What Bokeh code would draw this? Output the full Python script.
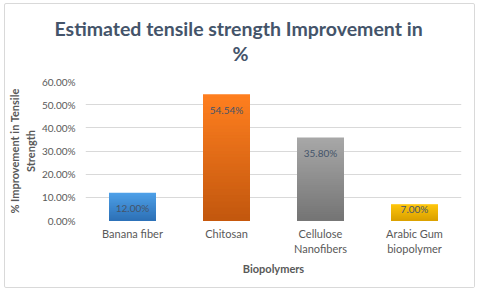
from bokeh.plotting import figure
from bokeh.models import Title, Range1d, FixedTicker, ColumnDataSource, CustomJSTickFormatter
from bokeh.core.properties import value
from bokeh.embed import file_html
from bokeh.resources import INLINE

categories = ["Banana fiber", "Chitosan", "Cellulose\nNanofibers", "Arabic Gum\nbiopolymer"]
improvement = [12.00, 54.54, 35.80, 7.00]
labels = ["12.00%", "54.54%", "35.80%", "7.00%"]
y_ticks = [0, 10, 20, 30, 40, 50, 60]
title_lines = ["Estimated tensile strength Improvement in", "%"]
top_colors = ["#4EA1E9", "#FF7F1F", "#A8A8A8", "#FFC60C"]
bottom_colors = ["#2D70B5", "#C2570E", "#747474", "#D9A000"]

FONT = "Lato"
TEXT = "#595959"
DARK = "#44546A"

p = figure(width=471, height=285, x_range=categories, y_range=Range1d(0, 60),
           output_backend="svg", toolbar_location=None,
           min_border_left=80, min_border_right=15, min_border_top=77, min_border_bottom=69)
p.outline_line_color = None
p.background_fill_color = "white"
p.border_fill_color = "white"
p.styles = {"margin-left": "4px", "margin-top": "3px", "border": "1px solid #D9D9D9", "border-radius": "2px"}

def hex2rgb(h):
    return tuple(int(h[i:i + 2], 16) for i in (1, 3, 5))

def mix(c1, c2, t):
    a, b = hex2rgb(c1), hex2rgb(c2)
    return "#%02x%02x%02x" % tuple(round(a[i] + (b[i] - a[i]) * t) for i in range(3))

# gradient bars: nested slices from the full height downwards, so no seams
n = 40
for cat, v, ct, cb in zip(categories, improvement, top_colors, bottom_colors):
    xs, tops, cols = [], [], []
    for i in range(n - 1, -1, -1):
        xs.append(cat)
        tops.append(v * (i + 1) / n)
        cols.append(mix(cb, ct, (i + 0.5) / n))
    p.vbar(x=xs, bottom=0, top=tops, width=0.5, fill_color=cols, line_color=None)

# data labels (inside end)
px_per_unit = 139.0 / 60.0
offsets = [min(15.5, v * px_per_unit - 12.0) for v in improvement]
src = ColumnDataSource(dict(x=categories, y=improvement, t=labels, off=offsets))
p.text(x="x", y="y", text="t", y_offset="off", source=src, text_align="center",
       text_baseline="middle", text_font=value(FONT), text_font_size="10px", text_color=DARK)

p.yaxis.ticker = FixedTicker(ticks=y_ticks)
p.yaxis.formatter = CustomJSTickFormatter(code="return tick.toFixed(2) + '%'")

for ax in (p.xaxis, p.yaxis):
    ax.axis_line_color = None
    ax.major_tick_line_color = None
    ax.minor_tick_line_color = None
    ax.major_tick_out = 0
    ax.major_tick_in = 0
    ax.minor_tick_out = 0
    ax.major_label_text_font = FONT
    ax.major_label_text_color = TEXT
    ax.axis_label_text_font = FONT
    ax.axis_label_text_font_size = "11px"
    ax.axis_label_text_font_style = "bold"
    ax.axis_label_text_color = TEXT

p.yaxis.major_label_text_font_size = "10px"
p.xaxis.major_label_text_font_size = "11px"
p.yaxis.major_label_standoff = 10
p.xaxis.major_label_standoff = 6
p.xaxis.axis_label = "Biopolymers"
p.xaxis.axis_label_standoff = 4
p.yaxis.axis_label = "% Improvement in Tensile\nStrength"
p.yaxis.axis_label_standoff = 2

p.xgrid.grid_line_color = None
p.ygrid.grid_line_color = "#D9D9D9"
p.ygrid.ticker = FixedTicker(ticks=y_ticks)
p.x_range.range_padding = 0.0

# titles stacked above the frame: spacer (nearest the frame), "%", then the first line
spacer = Title(text=" ", text_font_size="1px", standoff=14)
t2 = Title(text=title_lines[1], align="left", offset=147, standoff=0,
           text_font=FONT, text_font_size="19.5px", text_font_style="bold", text_color=DARK)
t1 = Title(text=title_lines[0], align="left", offset=-31, standoff=0,
           text_font=FONT, text_font_size="19.5px", text_font_style="bold", text_color=DARK)
p.add_layout(spacer, "above")
p.add_layout(t2, "above")
p.add_layout(t1, "above")

open("out.html", "w").write(file_html(p, INLINE))
